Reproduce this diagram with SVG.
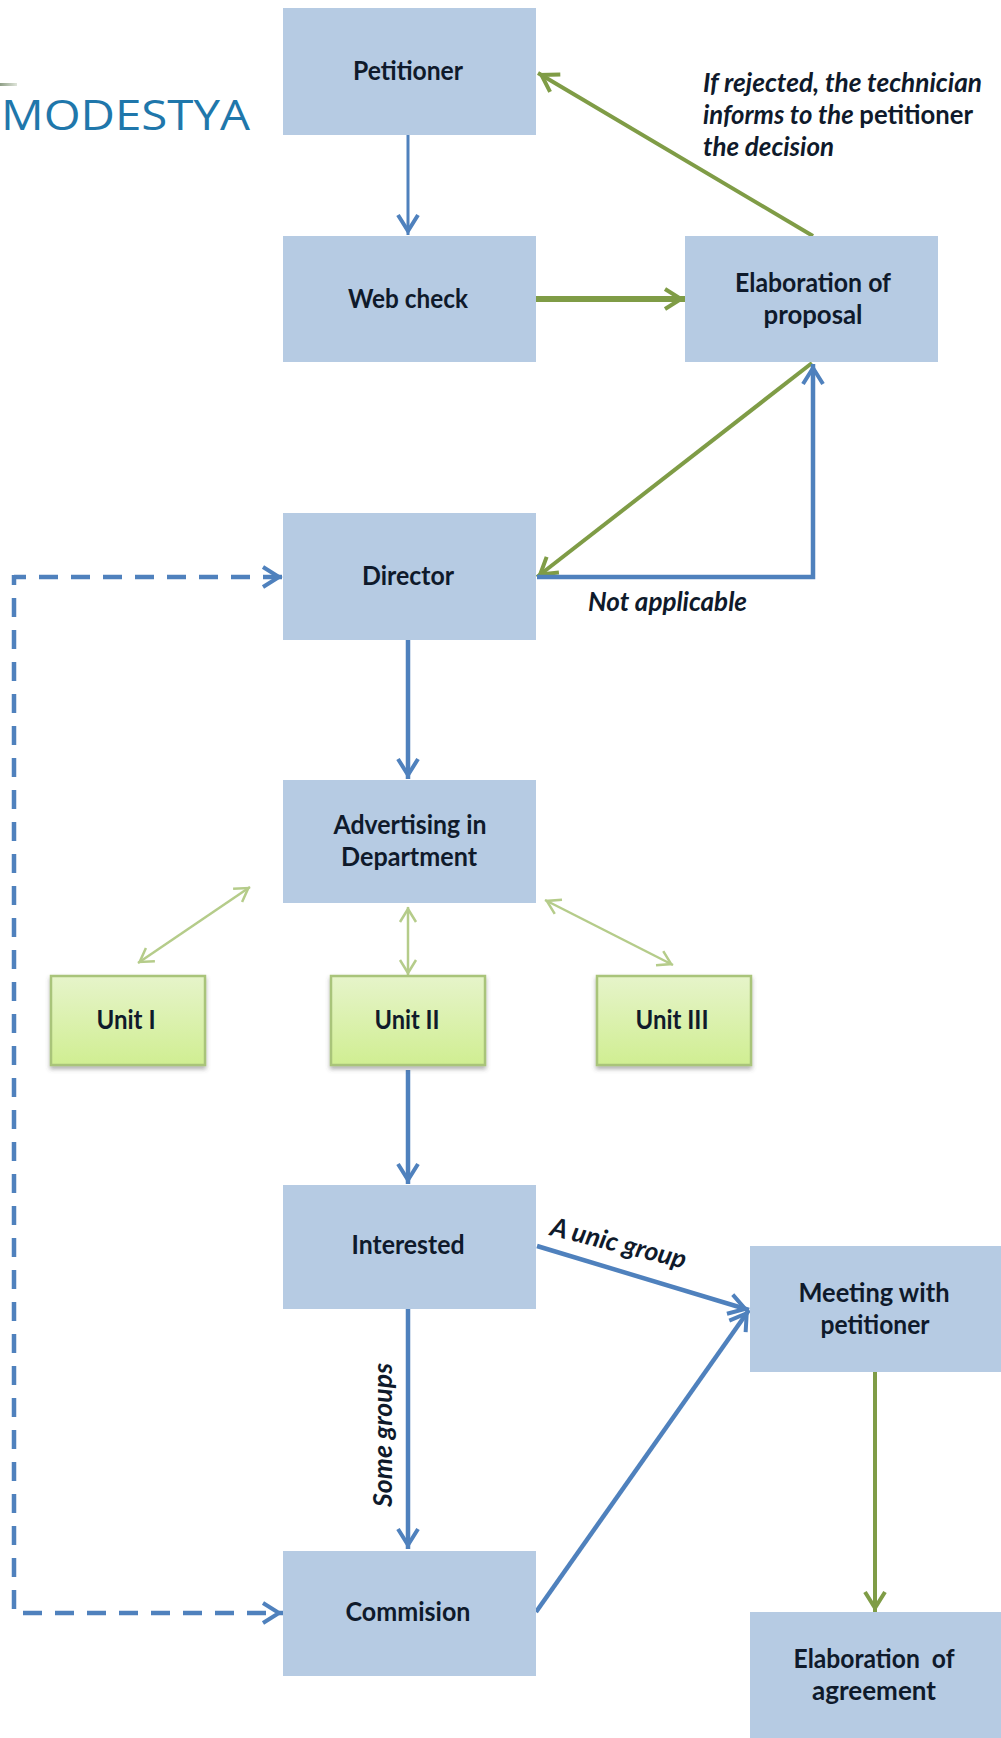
<svg xmlns="http://www.w3.org/2000/svg" width="1001" height="1738" viewBox="0 0 1001 1738">
<style>
.b{fill:#b6cbe3}
.u{fill:url(#ug);stroke:#a9c47a;stroke-width:2.5;filter:url(#sh)}
text{font-family:Lato,"Liberation Sans",sans-serif;fill:#0f1a2b}
.t{font-size:26px;font-weight:700;text-anchor:middle;white-space:pre}
.i{font-size:26px;font-weight:700;font-style:italic}
.c{fill:none;stroke-linecap:butt}
.bl{stroke:#4f81bd;stroke-width:4.5}
.bt{stroke:#4f81bd;stroke-width:3}
.gr{stroke:#7f9c46;stroke-width:4}
.gk{stroke:#7f9c46;stroke-width:6}
.lg{stroke:#b5cc8a;stroke-width:2.5}
</style>
<defs>
<linearGradient id="ug" x1="0" y1="0" x2="0" y2="1"><stop offset="0" stop-color="#e6f4ca"/><stop offset="1" stop-color="#d0ee92"/></linearGradient>
<linearGradient id="sw" x1="0" y1="0" x2="1" y2="0"><stop offset="0" stop-color="#8f9f86"/><stop offset="1" stop-color="#dfe5da"/></linearGradient>
<filter id="sh" x="-10%" y="-10%" width="120%" height="125%"><feDropShadow dx="0" dy="3" stdDeviation="2" flood-color="#555" flood-opacity=".45"/></filter>
<marker id="ab" markerUnits="userSpaceOnUse" markerWidth="27" markerHeight="28" refX="24" refY="14" orient="auto-start-reverse"><path d="M4 4L20 14L4 24" fill="none" stroke="#4f81bd" stroke-width="4"/></marker>
<marker id="ag" markerUnits="userSpaceOnUse" markerWidth="27" markerHeight="28" refX="24" refY="14" orient="auto-start-reverse"><path d="M4 4L20 14L4 24" fill="none" stroke="#7f9c46" stroke-width="4"/></marker>
<marker id="al" markerUnits="userSpaceOnUse" markerWidth="24" markerHeight="24" refX="20" refY="12" orient="auto-start-reverse"><path d="M5 4L18 12L5 20" fill="none" stroke="#b5cc8a" stroke-width="2.5"/></marker>
</defs>
<rect width="1001" height="1738" fill="#fff"/>
<g id="logo"><rect x="0" y="83" width="17" height="3" fill="url(#sw)"/><text x="1" y="130" font-size="60" textLength="249" lengthAdjust="spacingAndGlyphs" style="fill:#1f77ab;font-family:'Open Sans',sans-serif;font-weight:400;font-variant:small-caps">modestya</text></g>
<g id="connectors">
<path class="c bt" d="M408 135V235" marker-end="url(#ab)"/>
<path class="c gk" d="M536 299H685" marker-end="url(#ag)"/>
<path class="c gr" d="M813 236L538 73" marker-end="url(#ag)"/>
<path class="c gr" d="M812 363L537 577" marker-end="url(#ag)"/>
<path class="c bl" d="M537 577H813V364" marker-end="url(#ab)"/>
<path class="c bl" d="M408 640V779" marker-end="url(#ab)"/>
<path class="c bl" d="M14 577H283" stroke-dasharray="19 13" stroke-dashoffset="7" marker-end="url(#ab)"/>
<path class="c bl" d="M14 575V1613H283" stroke-dasharray="19 13" stroke-dashoffset="9" marker-end="url(#ab)"/>
<path class="c lg" d="M138 963L250 887" marker-start="url(#al)" marker-end="url(#al)"/>
<path class="c lg" d="M408 975V907" marker-start="url(#al)" marker-end="url(#al)"/>
<path class="c lg" d="M673 965L545 900" marker-start="url(#al)" marker-end="url(#al)"/>
<path class="c bl" d="M408 1070V1184" marker-end="url(#ab)"/>
<path class="c bl" d="M537 1246L749 1310" marker-end="url(#ab)"/>
<path class="c bl" d="M408 1309V1549" marker-end="url(#ab)"/>
<path class="c bl" d="M536 1612L749 1310" marker-end="url(#ab)"/>
<path class="c gr" d="M875 1372V1612" marker-end="url(#ag)"/>
</g>
<g id="petitioner"><rect class="b" x="283" y="8" width="253" height="127"/><text class="t" x="408" y="80" textLength="110" lengthAdjust="spacingAndGlyphs">Petitioner</text></g>
<g id="web-check"><rect class="b" x="283" y="236" width="253" height="126"/><text class="t" x="408" y="308" textLength="120" lengthAdjust="spacingAndGlyphs">Web check</text></g>
<g id="elaboration-proposal"><rect class="b" x="685" y="236" width="253" height="126"/><text class="t" x="813" y="292" textLength="156" lengthAdjust="spacingAndGlyphs">Elaboration of</text><text class="t" x="813" y="324" textLength="99" lengthAdjust="spacingAndGlyphs">proposal</text></g>
<g id="director"><rect class="b" x="283" y="513" width="253" height="127"/><text class="t" x="408" y="585" textLength="92" lengthAdjust="spacingAndGlyphs">Director</text></g>
<g id="advertising"><rect class="b" x="283" y="780" width="253" height="123"/><text class="t" x="410" y="834" textLength="153" lengthAdjust="spacingAndGlyphs">Advertising in</text><text class="t" x="409" y="866" textLength="136" lengthAdjust="spacingAndGlyphs">Department</text></g>
<g id="unit-1"><rect class="u" x="51" y="976" width="154" height="89"/><text class="t" x="126" y="1029" textLength="59" lengthAdjust="spacingAndGlyphs">Unit I</text></g>
<g id="unit-2"><rect class="u" x="331" y="976" width="154" height="89"/><text class="t" x="407" y="1029" textLength="65" lengthAdjust="spacingAndGlyphs">Unit II</text></g>
<g id="unit-3"><rect class="u" x="597" y="976" width="154" height="89"/><text class="t" x="672" y="1029" textLength="73" lengthAdjust="spacingAndGlyphs">Unit III</text></g>
<g id="interested"><rect class="b" x="283" y="1185" width="253" height="124"/><text class="t" x="408" y="1254" textLength="113" lengthAdjust="spacingAndGlyphs">Interested</text></g>
<g id="meeting"><rect class="b" x="750" y="1246" width="251" height="126"/><text class="t" x="874" y="1302" textLength="151" lengthAdjust="spacingAndGlyphs">Meeting with</text><text class="t" x="875" y="1334" textLength="109" lengthAdjust="spacingAndGlyphs">petitioner</text></g>
<g id="commision"><rect class="b" x="283" y="1551" width="253" height="125"/><text class="t" x="408" y="1621" textLength="125" lengthAdjust="spacingAndGlyphs">Commision</text></g>
<g id="elaboration-agreement"><rect class="b" x="750" y="1612" width="251" height="126"/><text class="t" x="874" y="1668" textLength="161" lengthAdjust="spacingAndGlyphs">Elaboration  of</text><text class="t" x="874" y="1700" textLength="124" lengthAdjust="spacingAndGlyphs">agreement</text></g>
<g id="labels">
<text class="i" x="703" y="92" textLength="279" lengthAdjust="spacingAndGlyphs">If rejected, the technician</text>
<text class="i" x="703" y="124" textLength="270" lengthAdjust="spacingAndGlyphs">informs to the <tspan font-style="normal">petitioner</tspan></text>
<text class="i" x="703" y="156" textLength="131" lengthAdjust="spacingAndGlyphs">the decision</text>
<text class="i" x="588" y="611" textLength="159" lengthAdjust="spacingAndGlyphs">Not applicable</text>
<text class="i" transform="translate(549 1235) rotate(14)" textLength="139" lengthAdjust="spacingAndGlyphs">A unic group</text>
<text class="i" transform="translate(392 1507) rotate(-90)" textLength="144" lengthAdjust="spacingAndGlyphs">Some groups</text>
</g>
</svg>
